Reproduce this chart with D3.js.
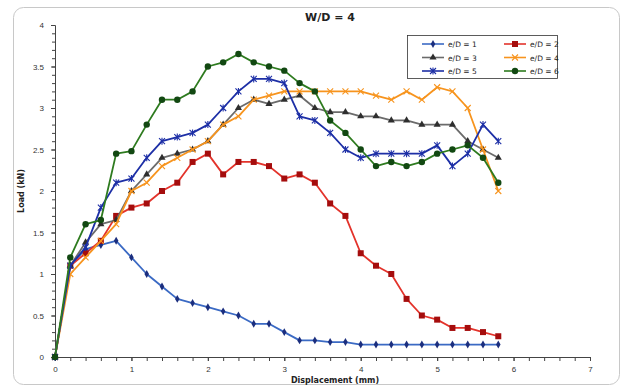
<!DOCTYPE html>
<html>
<head>
<meta charset="utf-8">
<script src="https://cdn.jsdelivr.net/npm/d3@7.9.0/dist/d3.min.js"></script>
<style>
  body { margin: 0; background: #fff; }
  svg { display: block; font-family: "DejaVu Sans", Verdana, sans-serif; }
</style>
</head>
<body>
<svg id="chart" width="624" height="389"></svg>
<script>
// displacement steps (mm)
const disp = [0, 0.2, 0.4, 0.6, 0.8, 1.0, 1.2, 1.4, 1.6, 1.8, 2.0, 2.2, 2.4, 2.6, 2.8,
              3.0, 3.2, 3.4, 3.6, 3.8, 4.0, 4.2, 4.4, 4.6, 4.8, 5.0, 5.2, 5.4, 5.6, 5.8];

// load (kN) per e/D
const load1 = [0, 1.1, 1.3, 1.35, 1.4, 1.2, 1.0, 0.85, 0.7, 0.65, 0.6, 0.55, 0.5, 0.4, 0.4,
               0.3, 0.2, 0.2, 0.18, 0.18, 0.15, 0.15, 0.15, 0.15, 0.15, 0.15, 0.15, 0.15, 0.15, 0.15];
const load2 = [0, 1.1, 1.25, 1.4, 1.7, 1.8, 1.85, 2.0, 2.1, 2.35, 2.45, 2.2, 2.35, 2.35, 2.3,
               2.15, 2.2, 2.1, 1.85, 1.7, 1.25, 1.1, 1.0, 0.7, 0.5, 0.45, 0.35, 0.35, 0.3, 0.25];
const load3 = [0, 1.1, 1.38, 1.6, 1.65, 2.0, 2.2, 2.4, 2.45, 2.5, 2.6, 2.8, 3.0, 3.1, 3.05,
               3.1, 3.15, 3.0, 2.95, 2.95, 2.9, 2.9, 2.85, 2.85, 2.8, 2.8, 2.8, 2.6, 2.5, 2.4];
const load4 = [0, 1.0, 1.2, 1.4, 1.6, 2.0, 2.1, 2.3, 2.4, 2.5, 2.6, 2.8, 2.9, 3.1, 3.15,
               3.2, 3.2, 3.2, 3.2, 3.2, 3.2, 3.15, 3.1, 3.2, 3.1, 3.25, 3.2, 3.0, 2.5, 2.0];
const load5 = [0, 1.1, 1.32, 1.8, 2.1, 2.15, 2.4, 2.6, 2.65, 2.7, 2.8, 3.0, 3.2, 3.35, 3.35,
               3.3, 2.9, 2.85, 2.7, 2.5, 2.4, 2.45, 2.45, 2.45, 2.45, 2.55, 2.3, 2.45, 2.8, 2.6];
const load6 = [0, 1.2, 1.6, 1.65, 2.45, 2.48, 2.8, 3.1, 3.1, 3.2, 3.5, 3.55, 3.65, 3.55, 3.5,
               3.45, 3.3, 3.2, 2.85, 2.7, 2.5, 2.3, 2.35, 2.3, 2.35, 2.45, 2.5, 2.55, 2.4, 2.1];

const seriesNames = ["e/D = 1", "e/D = 2", "e/D = 3", "e/D = 4", "e/D = 5", "e/D = 6"];
const xTicks = [0, 1, 2, 3, 4, 5, 6, 7];
const yTicks = [0, 0.5, 1, 1.5, 2, 2.5, 3, 3.5, 4];

const styles = [
  { line: "#3b6ac4", mark: "#1b2e7e", sym: "diamond" },
  { line: "#e3332b", mark: "#a50d0d", sym: "square" },
  { line: "#6b6b6b", mark: "#2e2e2e", sym: "triangle" },
  { line: "#f7941e", mark: "#f7941e", sym: "cross" },
  { line: "#1d2fa6", mark: "#1d2fa6", sym: "star" },
  { line: "#2e7b1f", mark: "#124812", sym: "circle" }
];

const allLoads = [load1, load2, load3, load4, load5, load6];
const series = seriesNames.map((name, i) => ({
  name: name,
  style: styles[i],
  points: disp.map((d, j) => ({ x: d, y: allLoads[i][j] }))
}));

const svg = d3.select("#chart");
const plotLeft = 55, plotRight = 590, plotTop = 25, plotBottom = 357;

const x = d3.scaleLinear().domain([0, 7]).range([plotLeft, plotRight]);
const y = d3.scaleLinear().domain([0, 4]).range([plotBottom, plotTop]);

// outer frame
svg.append("rect")
  .attr("x", 13.5).attr("y", 7.5).attr("width", 606).attr("height", 377)
  .attr("rx", 10).attr("fill", "none").attr("stroke", "#c8c8c8").attr("stroke-width", 1);

// axes: minor ticks first, then major ticks with labels
const xMinor = d3.range(0, 7.01, 0.2);
const yMinor = d3.range(0, 4.01, 0.1);

svg.append("g").attr("transform", `translate(0,${plotBottom})`)
  .call(d3.axisBottom(x).tickValues(xMinor).tickSize(4).tickFormat(""))
  .call(g => g.select(".domain").remove());
svg.append("g").attr("transform", `translate(0,${plotBottom})`)
  .call(d3.axisBottom(x).tickValues(xTicks).tickSize(4).tickPadding(5).tickFormat(d3.format("d")));

svg.append("g").attr("transform", `translate(${plotLeft},0)`)
  .call(d3.axisLeft(y).tickValues(yMinor).tickSize(3).tickFormat(""))
  .call(g => g.select(".domain").remove());
svg.append("g").attr("transform", `translate(${plotLeft},0)`)
  .call(d3.axisLeft(y).tickValues(yTicks).tickSize(4).tickPadding(7).tickFormat(d => String(d)));

svg.selectAll(".tick line").attr("stroke", "#444");
svg.selectAll(".domain").attr("stroke", "#444");
svg.selectAll(".tick text").attr("fill", "#333").style("font-size", "8px");

// titles
svg.append("text").attr("x", 330).attr("y", 21).attr("text-anchor", "middle")
  .style("font-size", "11px").style("font-weight", "bold").attr("fill", "#222").text("W/D = 4");
svg.append("text").attr("x", 335).attr("y", 383).attr("text-anchor", "middle")
  .style("font-size", "8px").style("font-weight", "bold").attr("fill", "#222").text("Displacement  (mm)");
svg.append("text").attr("transform", `translate(24,191) rotate(-90)`).attr("text-anchor", "middle")
  .style("font-size", "8px").style("font-weight", "bold").attr("fill", "#222").text("Load (kN)");

// marker drawing
function drawMarker(g, sym, color) {
  if (sym === "diamond") {
    g.append("path").attr("d", d3.symbol(d3.symbolDiamond, 18)()).attr("fill", color);
  } else if (sym === "square") {
    g.append("rect").attr("x", -3).attr("y", -3).attr("width", 6).attr("height", 6).attr("fill", color);
  } else if (sym === "triangle") {
    g.append("path").attr("d", d3.symbol(d3.symbolTriangle, 22)()).attr("fill", color);
  } else if (sym === "cross") {
    g.append("path").attr("d", "M-3,-3L3,3M-3,3L3,-3").attr("stroke", color).attr("stroke-width", 1.1);
  } else if (sym === "star") {
    g.append("path").attr("d", "M-3,-3L3,3M-3,3L3,-3M0,-3.5L0,3.5").attr("stroke", color).attr("stroke-width", 1.1);
  } else if (sym === "circle") {
    g.append("circle").attr("r", 3.2).attr("fill", color);
  }
}

const line = d3.line().x(d => x(d.x)).y(d => y(d.y));

series.forEach(s => {
  const g = svg.append("g");
  g.append("path").datum(s.points).attr("d", line)
    .attr("fill", "none").attr("stroke", s.style.line).attr("stroke-width", 1.8)
    .attr("stroke-linejoin", "round");
  s.points.forEach(p => {
    const m = g.append("g").attr("transform", `translate(${x(p.x)},${y(p.y)})`);
    drawMarker(m, s.style.sym, s.style.mark);
  });
});

// legend
const legend = svg.append("g");
legend.append("rect").attr("x", 407.5).attr("y", 35.5).attr("width", 150).attr("height", 43)
  .attr("fill", "#fff").attr("stroke", "#333").attr("stroke-width", 0.8);
series.forEach((s, i) => {
  const col = i % 2, row = Math.floor(i / 2);
  const lx = 422 + col * 82, ly = 44 + row * 13.5;
  legend.append("line").attr("x1", lx).attr("x2", lx + 22).attr("y1", ly).attr("y2", ly)
    .attr("stroke", s.style.line).attr("stroke-width", 1.6);
  const m = legend.append("g").attr("transform", `translate(${lx + 11},${ly})`);
  drawMarker(m, s.style.sym, s.style.mark);
  legend.append("text").attr("x", lx + 26).attr("y", ly + 3).style("font-size", "7.5px")
    .attr("fill", "#222").text(s.name);
});
</script>
</body>
</html>
